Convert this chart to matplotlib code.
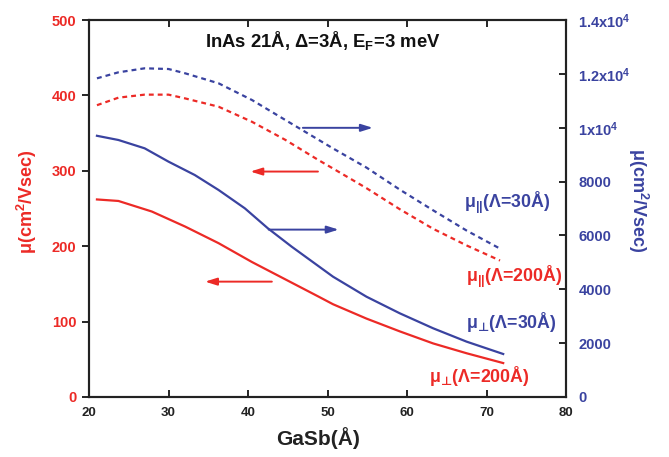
import matplotlib
matplotlib.use("Agg")
import matplotlib.pyplot as plt

plt.rcParams['font.family'] = ['Liberation Sans', 'DejaVu Sans']
plt.rcParams['font.weight'] = 'bold'
plt.rcParams['mathtext.fontset'] = 'custom'
plt.rcParams['mathtext.rm'] = 'Liberation Sans:bold'
plt.rcParams['mathtext.bf'] = 'Liberation Sans:bold'
plt.rcParams['mathtext.it'] = 'Liberation Sans:bold'
plt.rcParams['mathtext.sf'] = 'DejaVu Sans:bold'
plt.rcParams['mathtext.default'] = 'bf'

RED = '#ec2a26'
BLUE = '#3a43a0'

# GaSb thickness (Å)
x_perp200 = [21, 23.7, 27.9, 32.1, 36.3, 40.5, 44.7, 48.9, 50.7, 54.9, 59.1, 63.3, 67.5, 72.1]
mu_perp200 = [262, 260, 246, 226, 204, 179, 156, 133, 123, 104, 87, 71, 58, 45]

x_perp30 = [21, 23.7, 27, 30, 33.3, 36.3, 39.6, 42.5, 45.5, 50.7, 54.9, 59.1, 63.3, 67.5, 72.1]
mu_perp30 = [9700, 9544, 9235, 8740, 8244, 7687, 7007, 6264, 5581, 4467, 3725, 3107, 2550, 2055, 1597]

x_par30 = [21, 23.7, 27, 30, 32.1, 36.3, 40.5, 44.7, 50.7, 54.9, 59.1, 63.3, 67.5, 71.7]
mu_par30 = [11834, 12057, 12206, 12180, 12020, 11649, 11029, 10286, 9230, 8520, 7700, 6930, 6180, 5510]

x_par200 = [21, 23.7, 27, 30, 32.1, 36.3, 40.5, 44.7, 48.9, 50.7, 54.9, 59.1, 63.3, 67.5, 71.7]
mu_par200 = [387, 397, 401, 401, 396, 385, 365, 341, 314, 303, 277, 249, 223, 201, 181]

x_ticks = [20, 30, 40, 50, 60, 70, 80]
left_ticks = [0, 100, 200, 300, 400, 500]
right_ticks = [0, 2000, 4000, 6000, 8000, 10000, 12000, 14000]
right_labels = ['0', '2000', '4000', '6000', '8000', '1x10$^4$', '1.2x10$^4$', '1.4x10$^4$']

fig = plt.figure(figsize=(6.69, 4.57), dpi=100)
ax = fig.add_axes([89/669, 1-397/457, (566-89)/669, (397-20)/457])
ax2 = ax.twinx()

ax.plot(x_perp200, mu_perp200, color=RED, lw=1.6)
ax.plot(x_par200, mu_par200, color=RED, lw=1.6, ls=(0, (2.2, 1.8)))
ax2.plot(x_perp30, mu_perp30, color=BLUE, lw=1.6)
ax2.plot(x_par30, mu_par30, color=BLUE, lw=1.6, ls=(0, (2.2, 1.8)))

ax.set_xlim(20, 80)
ax.set_ylim(0, 500)
ax2.set_ylim(0, 14000)
ax.set_xticks(x_ticks)
ax.set_yticks(left_ticks)
ax2.set_yticks(right_ticks)
ax2.set_yticklabels(right_labels)

for a in (ax, ax2):
    for s in a.spines.values():
        s.set_linewidth(1.5)
        s.set_color('#222222')

ax.tick_params(axis='x', which='both', direction='in', top=True, length=5, width=1.2,
               pad=7, labelsize=9.5, labelcolor='#222222')
ax.tick_params(axis='y', direction='out', length=5, width=1.2, pad=4,
               labelsize=10.5, labelcolor=RED)
ax2.tick_params(axis='y', direction='in', length=5, width=1.2, pad=9,
                labelsize=10.5, labelcolor=BLUE)

fig.text(318/669, 1-438/457, 'GaSb(Å)', fontsize=15, fontweight='bold', color='#222222',
         ha='center', va='center')
fig.text(27/669, 1-202/457, 'μ(cm$^2$/Vsec)', fontsize=13, fontweight='bold', color=RED,
         rotation=90, ha='center', va='center')
fig.text(638/669, 1-200/457, 'μ(cm$^2$/Vsec)', fontsize=13, fontweight='bold', color=BLUE,
         rotation=-90, ha='center', va='center')

ax.text(34.6, 473, 'InAs 21Å, Δ=3Å, E$_F$=3 meV', fontsize=13.3, fontweight='bold',
        color='#111111', ha='left', va='center')

ax.text(67.2, 257, 'μ$_{||}$(Λ=30Å)', fontsize=12.8, color=BLUE, ha='left', va='center')
ax.text(67.4, 159, 'μ$_{||}$(Λ=200Å)', fontsize=12.8, color=RED, ha='left', va='center')
ax.text(67.4, 100, 'μ$_{\\mathsf{⊥}}$(Λ=30Å)', fontsize=12.8, color=BLUE, ha='left', va='center')
ax.text(62.8, 28, 'μ$_{\\mathsf{⊥}}$(Λ=200Å)', fontsize=12.8, color=RED, ha='left', va='center')

arrow = dict(arrowstyle='-|>,head_length=0.7,head_width=0.22', lw=1.4, shrinkA=0, shrinkB=0)
ax.annotate('', xy=(55.7, 357), xytext=(46.9, 357), arrowprops=dict(color=BLUE, **arrow))
ax.annotate('', xy=(40.3, 299), xytext=(48.8, 299), arrowprops=dict(color=RED, **arrow))
ax.annotate('', xy=(51.4, 222), xytext=(42.6, 222), arrowprops=dict(color=BLUE, **arrow))
ax.annotate('', xy=(34.6, 153), xytext=(43.0, 153), arrowprops=dict(color=RED, **arrow))

fig.savefig('out.png', dpi=100)
